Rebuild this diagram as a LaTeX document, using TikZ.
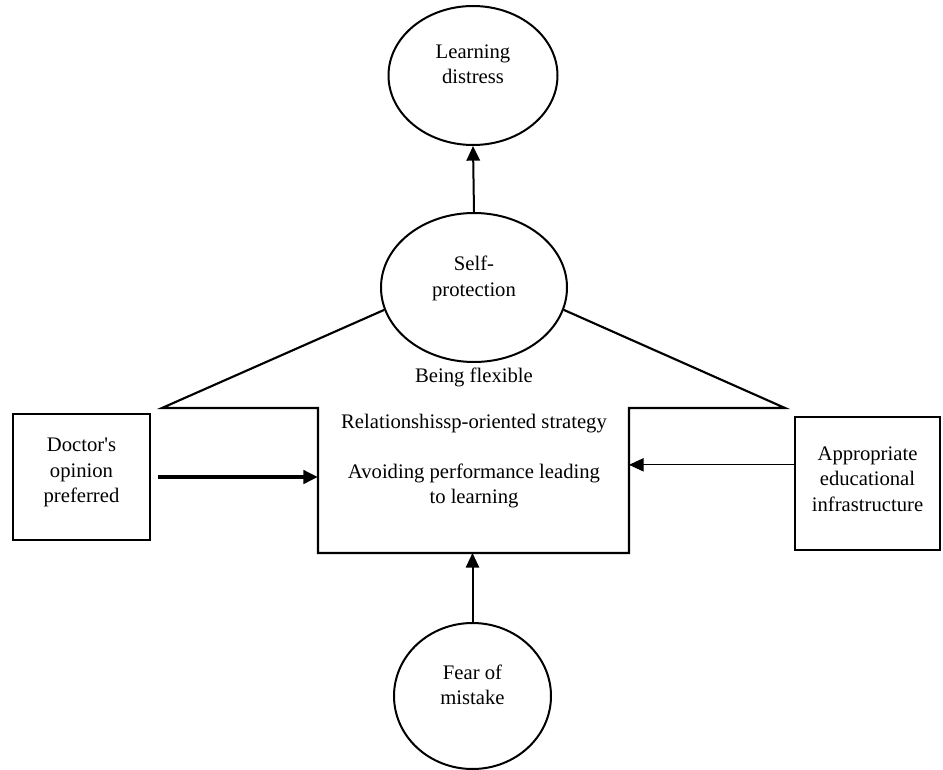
\documentclass[tikz,border=0pt]{standalone}
\usepackage{fontspec}
\setmainfont{Liberation Serif}
\usetikzlibrary{arrows.meta, positioning, shapes.geometric}

\begin{document}
\begin{tikzpicture}[
  x=0.75pt, y=-0.75pt,
  every node/.style={font=\fontsize{15.5}{19}\selectfont, align=center},
  oval/.style={ellipse, draw=black, line width=1.5pt, inner sep=0pt, text depth=17pt},
  sidebox/.style={rectangle, draw=black, line width=1.8pt, inner sep=2pt},
  outline/.style={black, line width=1.6pt},
  link/.style={black, line width=1.5pt, -{Triangle[length=11pt, width=10pt]}},
  boldlink/.style={link, line width=2.6pt},
  thinlink/.style={link, line width=0.8pt}
]
  \useasboundingbox (0,0) rectangle (943,770);
  % Ellipses of the middle column
  \node[oval, minimum width=126.75pt, minimum height=104.25pt] (ld) at (473,75.5) {Learning\\distress};
  \node[oval, minimum width=139.5pt, minimum height=111.75pt] (sp) at (474,287.5) {Self-\\protection};
  \node[oval, minimum width=117.75pt, minimum height=109.5pt] (fm) at (472.5,696) {Fear of\\mistake};
  % Side boxes
  \node[sidebox, minimum width=102.75pt, minimum height=94.5pt, text depth=10pt] (doc) at (81.5,477) {Doctor\textquotesingle s\\opinion\\preferred};
  \node[sidebox, minimum width=108.75pt, minimum height=99.75pt, text depth=7pt] (app) at (867.5,483.5) {Appropriate\\educational\\infrastructure};
  % Corners of the strategy outline
  \coordinate (tl) at (162,408);
  \coordinate (tr) at (785,408);
  \coordinate (ctl) at (318,408);
  \coordinate (cbl) at (318,553);
  \coordinate (cbr) at (629,553);
  \coordinate (ctr) at (629,408);
  \draw[outline] (sp.194) -- (tl) -- (ctl) -- (cbl) -- (cbr) -- (ctr) -- (tr) -- (sp.346);
  % Strategy texts
  \node (flex) at (474,377) {Being flexible};
  \node (rel) at (474,424) {Relationshissp-oriented strategy};
  \node (avoid) at (474,486) {Avoiding performance leading\\to learning};
  % Connectors
  \draw[link] (sp.north) -- (ld.south);
  \draw[link] (fm.north) -- (fm.north |- cbl);
  \draw[boldlink] ([xshift=5pt]doc.east) -- (doc.east -| ctl);
  \draw[thinlink] ([yshift=14pt]app.west) -- ([yshift=14pt]app.west -| ctr);
\end{tikzpicture}
\end{document}
